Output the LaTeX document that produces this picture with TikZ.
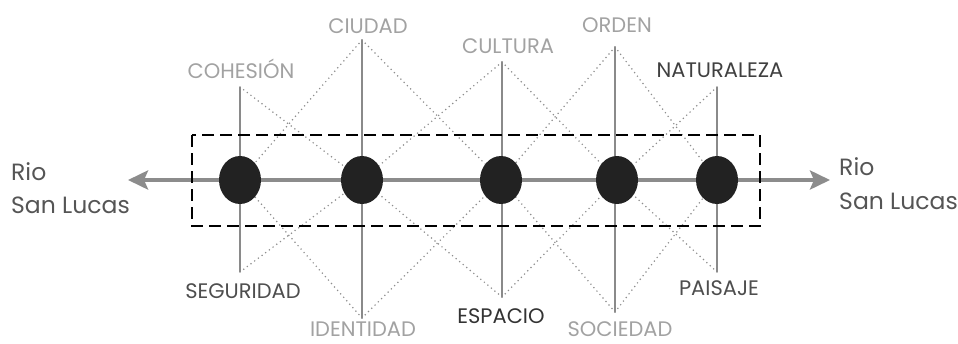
\documentclass[tikz,border=0pt]{standalone}
\usepackage{fontspec}
\setmainfont{Poppins}
\usetikzlibrary{arrows.meta,shapes.geometric}
\definecolor{axisgray}{HTML}{8C8C8C}
\definecolor{vgray}{HTML}{8A8A8A}
\definecolor{dotgray}{HTML}{8E8E8E}
\definecolor{lightlab}{HTML}{A2A2A2}
\definecolor{darklab}{HTML}{4E4E4E}
\definecolor{riolab}{HTML}{555555}
\definecolor{blob}{HTML}{222222}
\tikzset{
  lab/.style={anchor=base, inner sep=0pt, text depth=0pt, font=\fontsize{21}{21}\selectfont},
  lablight/.style={lab, text=lightlab},
  labdark/.style={lab, text=darklab},
  riotext/.style={anchor=base west, inner sep=0pt, text=riolab, font=\fontsize{23.5}{24}\selectfont},
  vline/.style={draw=vgray, line width=2.4pt},
  dotline/.style={draw=dotgray, line width=1.7pt, line cap=round, dash pattern=on 0pt off 4.6pt},
  blobnode/.style={ellipse, fill=blob, minimum width=42pt, minimum height=48pt, inner sep=0pt},
  axisline/.style={draw=axisgray, line width=4.5pt, {Stealth[length=20pt,width=19pt,inset=4pt]}-{Stealth[length=20pt,width=19pt,inset=4pt]}},
  boxline/.style={draw=black, line width=2.6pt, dash pattern=on 12pt off 6pt}
}
\begin{document}
\begin{tikzpicture}[x=1pt,y=-1pt]
\useasboundingbox (0,0) rectangle (958,343);
% axis
\coordinate (aL) at (128,180);
\coordinate (aR) at (830,180);
\draw[axisline] (aL) -- (aR);
% vertical line ends
\coordinate (t1) at (240,87);  \coordinate (b1) at (240,272);
\coordinate (t2) at (362,40);  \coordinate (b2) at (362,318);
\coordinate (t3) at (502,62);  \coordinate (b3) at (502,297);
\coordinate (t4) at (615,47);  \coordinate (b4) at (615,312);
\coordinate (t5) at (717,87);  \coordinate (b5) at (717,272);
\foreach \i in {1,...,5} { \draw[vline] (t\i) -- (b\i); }
% blob positions
\coordinate (c1) at (240,180);
\coordinate (c2) at (362,180);
\coordinate (c3) at (501,180);
\coordinate (c4) at (617,180);
\coordinate (c5) at (717,180);
% dotted links
\draw[dotline] (t1) -- (c2);
\draw[dotline] (b1) -- (c2);
\draw[dotline] (t2) -- (c1);
\draw[dotline] (t2) -- (c3);
\draw[dotline] (b2) -- (c1);
\draw[dotline] (b2) -- (c3);
\draw[dotline] (t3) -- (c2);
\draw[dotline] (t3) -- (c4);
\draw[dotline] (b3) -- (c2);
\draw[dotline] (b3) -- (c4);
\draw[dotline] (t4) -- (c3);
\draw[dotline] (t4) -- (c5);
\draw[dotline] (b4) -- (c3);
\draw[dotline] (b4) -- (c5);
\draw[dotline] (t5) -- (c4);
\draw[dotline] (b5) -- (c4);
% blobs
\foreach \i in {1,...,5} { \node[blobnode] (e\i) at (c\i) {}; }
% dashed box
\coordinate (bx1) at (192,135);
\coordinate (bx2) at (760,226);
\draw[boxline] (bx1) rectangle (bx2);
% labels
\node[lablight] (lcoh) at (241,78) {COHESIÓN};
\node[lablight] (lciu) at (368,33) {CIUDAD};
\node[lablight] (lcul) at (508,53) {CULTURA};
\node[lablight] (lord) at (617,32) {ORDEN};
\node[labdark, text=black!75] (lnat) at (720,77) {NATURALEZA};
\node[labdark] (lseg) at (243,298) {SEGURIDAD};
\node[lablight] (lide) at (363,336) {IDENTIDAD};
\node[labdark, text=black!80] (lesp) at (501,323) {ESPACIO};
\node[lablight] (lsoc) at (620,336) {SOCIEDAD};
\node[labdark] (lpai) at (719,295) {PAISAJE};
% river labels
\node[riotext] (rl1) at (11,180) {Rio};
\node[riotext] (rl2) at (11,213) {San Lucas};
\node[riotext] (rr1) at (839,175) {Rio};
\node[riotext] (rr2) at (839,209) {San Lucas};
\end{tikzpicture}
\end{document}
